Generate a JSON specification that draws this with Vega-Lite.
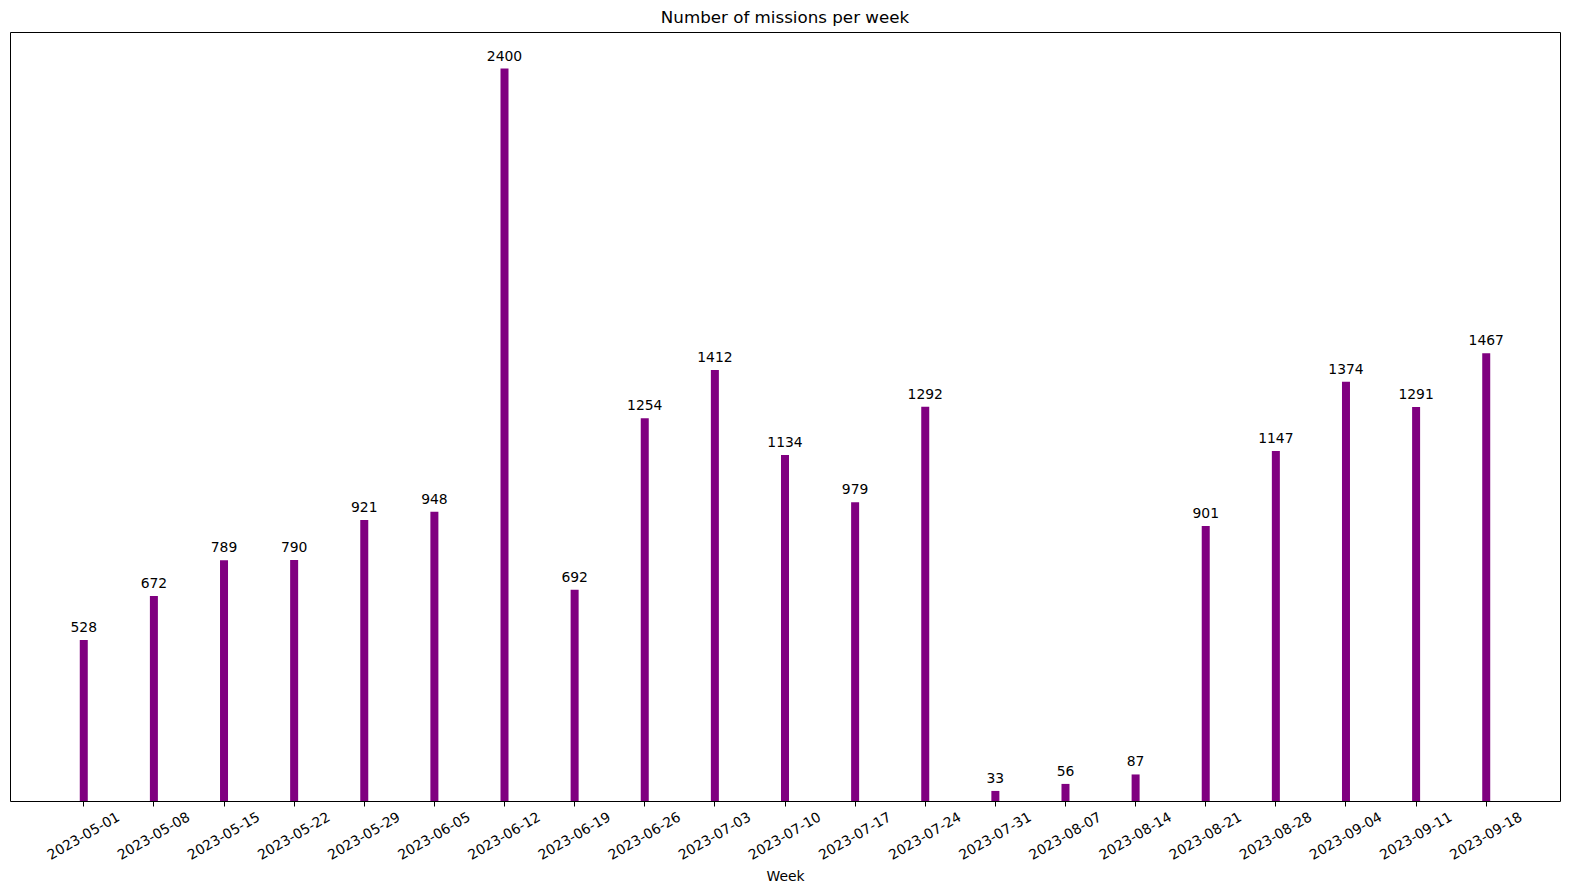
{
  "$schema": "https://vega.github.io/schema/vega-lite/v6.json",
  "autosize": "none",
  "padding": {"left": 10, "top": 32, "right": 10, "bottom": 92},
  "width": 1550,
  "height": 769,
  "background": "white",
  "title": {"text": "Number of missions per week", "font": "DejaVu Sans", "fontSize": 16.7, "fontWeight": "normal", "color": "black", "offset": 5},
  "config": {
    "view": {"stroke": "black", "strokeWidth": 1},
    "font": "DejaVu Sans"
  },
  "data": {"values": [
    {"week": "2023-05-01", "count": 528},
    {"week": "2023-05-08", "count": 672},
    {"week": "2023-05-15", "count": 789},
    {"week": "2023-05-22", "count": 790},
    {"week": "2023-05-29", "count": 921},
    {"week": "2023-06-05", "count": 948},
    {"week": "2023-06-12", "count": 2400},
    {"week": "2023-06-19", "count": 692},
    {"week": "2023-06-26", "count": 1254},
    {"week": "2023-07-03", "count": 1412},
    {"week": "2023-07-10", "count": 1134},
    {"week": "2023-07-17", "count": 979},
    {"week": "2023-07-24", "count": 1292},
    {"week": "2023-07-31", "count": 33},
    {"week": "2023-08-07", "count": 56},
    {"week": "2023-08-14", "count": 87},
    {"week": "2023-08-21", "count": 901},
    {"week": "2023-08-28", "count": 1147},
    {"week": "2023-09-04", "count": 1374},
    {"week": "2023-09-11", "count": 1291},
    {"week": "2023-09-18", "count": 1467}
  ]},
  "encoding": {
    "x": {
      "field": "week", "type": "ordinal", "sort": null,
      "scale": {"type": "band", "paddingInner": 0.8859, "paddingOuter": 0.995},
      "axis": {
        "title": "Week", "titleFont": "DejaVu Sans", "titleFontSize": 13.9, "titleFontWeight": "normal", "titleColor": "black", "titlePadding": 7,
        "labelAngle": -30, "labelAlign": "center", "labelBaseline": "middle", "labelPadding": 30,
        "labelFont": "DejaVu Sans", "labelFontSize": 13.9, "labelColor": "black",
        "tickSize": 5, "tickColor": "black", "domain": false, "grid": false
      }
    },
    "y": {
      "field": "count", "type": "quantitative",
      "scale": {"domain": [0, 2520], "nice": false, "zero": true},
      "axis": null
    }
  },
  "layer": [
    {"mark": {"type": "bar", "color": "#800080"}},
    {"mark": {"type": "text", "baseline": "bottom", "dy": -5, "fontSize": 13.9, "font": "DejaVu Sans", "color": "black"},
     "encoding": {"text": {"field": "count", "type": "quantitative"}}}
  ]
}
